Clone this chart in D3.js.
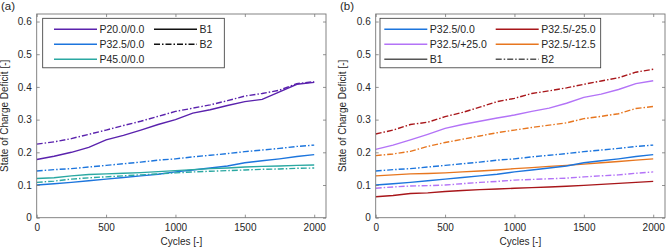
<!DOCTYPE html>
<html><head><meta charset="utf-8">
<script src="https://cdn.jsdelivr.net/npm/d3@7"></script>
<style>
body{margin:0;background:#fff;}
svg{display:block;font-family:"Liberation Sans",Arial,sans-serif;}
</style></head>
<body><svg id="c" width="667" height="248"></svg>
<script>
// ---- data ----
const cycles = [0,125,250,375,500,625,750,875,1000,1125,1250,1375,1500,1625,1750,1875,2000];

// panel (a)
const a_P20_B1  = [0.178,0.188,0.200,0.215,0.238,0.252,0.268,0.285,0.300,0.320,0.330,0.343,0.355,0.362,0.385,0.408,0.414];
const a_P20_B2  = [0.225,0.232,0.242,0.255,0.268,0.282,0.295,0.310,0.325,0.335,0.345,0.358,0.372,0.380,0.390,0.410,0.416];
const a_P325_B1 = [0.100,0.104,0.108,0.113,0.118,0.123,0.128,0.133,0.140,0.146,0.152,0.158,0.168,0.174,0.180,0.187,0.193];
const a_P325_B2 = [0.143,0.147,0.150,0.155,0.160,0.165,0.170,0.176,0.180,0.186,0.191,0.196,0.202,0.207,0.212,0.218,0.222];
const a_P45_B1  = [0.120,0.122,0.128,0.132,0.134,0.136,0.138,0.141,0.144,0.147,0.150,0.152,0.155,0.157,0.158,0.160,0.161];
const a_P45_B2  = [0.108,0.112,0.118,0.122,0.125,0.128,0.131,0.134,0.137,0.140,0.142,0.144,0.146,0.148,0.149,0.151,0.152];

// panel (b)
const b_P325_B1  = a_P325_B1;
const b_P325_B2  = a_P325_B2;
const b_M25_B1   = [0.064,0.068,0.074,0.076,0.080,0.083,0.086,0.088,0.090,0.092,0.094,0.096,0.099,0.102,0.105,0.108,0.111];
const b_M25_B2   = [0.256,0.268,0.285,0.292,0.309,0.322,0.338,0.355,0.365,0.380,0.388,0.397,0.408,0.418,0.428,0.445,0.454];
const b_P25_B1   = [0.209,0.222,0.238,0.255,0.273,0.285,0.295,0.305,0.314,0.325,0.335,0.350,0.368,0.378,0.392,0.410,0.419];
const b_P25_B2   = [0.090,0.094,0.097,0.098,0.100,0.104,0.108,0.111,0.115,0.117,0.119,0.121,0.125,0.128,0.131,0.136,0.140];
const b_M125_B1  = [0.128,0.131,0.134,0.135,0.137,0.140,0.143,0.146,0.150,0.153,0.157,0.160,0.164,0.168,0.172,0.176,0.180];
const b_M125_B2  = [0.190,0.195,0.203,0.218,0.230,0.240,0.250,0.260,0.268,0.276,0.283,0.290,0.303,0.310,0.318,0.334,0.340];

const xTicks = [0,500,1000,1500,2000];
const yTicks = [0,0.1,0.2,0.3,0.4,0.5,0.6];
const xLabel = "Cycles [-]";
const yLabel = "State of Charge Deficit [-]";

const colors = {
  P20:"#5a22ad", P325:"#1c75dd", P45:"#2aa8a2",
  M25:"#a8161a", P25:"#b373f7", M125:"#e7761f"
};

const panelA = {
  title:"(a)",
  series:[
    {v:a_P20_B2, c:colors.P20, d:true},{v:a_P20_B1, c:colors.P20, d:false},
    {v:a_P325_B2,c:colors.P325,d:true},{v:a_P325_B1,c:colors.P325,d:false},
    {v:a_P45_B2, c:colors.P45, d:true},{v:a_P45_B1, c:colors.P45, d:false}
  ],
  legend:[
    {t:"P20.0/0.0",c:colors.P20,d:false,col:0,row:0},
    {t:"P32.5/0.0",c:colors.P325,d:false,col:0,row:1},
    {t:"P45.0/0.0",c:colors.P45,d:false,col:0,row:2},
    {t:"B1",c:"#111",d:false,col:1,row:0},
    {t:"B2",c:"#111",d:true,col:1,row:1}
  ]
};
const panelB = {
  title:"(b)",
  series:[
    {v:b_M25_B2, c:colors.M25, d:true},{v:b_P25_B1, c:colors.P25, d:false},
    {v:b_M125_B2,c:colors.M125,d:true},{v:b_P325_B2,c:colors.P325,d:true},
    {v:b_M125_B1,c:colors.M125,d:false},{v:b_P325_B1,c:colors.P325,d:false},
    {v:b_P25_B2, c:colors.P25, d:true},{v:b_M25_B1, c:colors.M25, d:false}
  ],
  legend:[
    {t:"P32.5/0.0",c:colors.P325,d:false,col:0,row:0},
    {t:"P32.5/+25.0",c:colors.P25,d:false,col:0,row:1},
    {t:"B1",c:"#555",d:false,col:0,row:2},
    {t:"P32.5/-25.0",c:colors.M25,d:false,col:1,row:0},
    {t:"P32.5/-12.5",c:colors.M125,d:false,col:1,row:1},
    {t:"B2",c:"#555",d:true,col:1,row:2}
  ]
};

const svg = d3.select("#c");
svg.append("rect").attr("width",667).attr("height",248).attr("fill","#fff");
const DASH = "6,2,1.5,2";
const txt = "#262626";

function drawPanel(p, ox, layout){
  const L = ox + 36.7, R = ox + 326, T = 14, B = 217.7;
  const x = d3.scaleLinear().domain([0,2085]).range([L,R]);
  const y = d3.scaleLinear().domain([0,0.623]).range([B,T]);
  const g = svg.append("g");

  // data lines
  const clipId = "clip"+p.title.replace(/\W/g,"");
  svg.append("clipPath").attr("id",clipId).append("rect")
    .attr("x",L).attr("y",T).attr("width",R-L).attr("height",B-T);
  const line = d3.line().x((d,i)=>x(cycles[i])).y(d=>y(d));
  const lg = g.append("g").attr("clip-path",`url(#${clipId})`);
  p.series.forEach(s=>{
    lg.append("path").attr("d",line(s.v)).attr("fill","none")
      .attr("stroke",s.c).attr("stroke-width",1.4)
      .attr("stroke-dasharray",s.d?DASH:null);
  });

  // axes (ticks inside, mirrored)
  const axB = d3.axisBottom(x).tickValues(xTicks).tickSize(-3).tickPadding(6).tickFormat(d3.format("d"));
  const axT = d3.axisTop(x).tickValues(xTicks).tickSize(-3).tickFormat("");
  const axL = d3.axisLeft(y).tickValues(yTicks).tickSize(-3).tickPadding(5).tickFormat(d=>d===0?"0":d3.format(".1f")(d));
  const axR = d3.axisRight(y).tickValues(yTicks).tickSize(-3).tickFormat("");
  const style = sel=>{
    sel.select(".domain").remove();
    sel.selectAll(".tick line").attr("stroke","#777").attr("stroke-width",0.8);
    sel.selectAll(".tick text").attr("fill",txt).style("font-size","10px").style("font-family","Liberation Sans, Arial, sans-serif");
  };
  g.append("g").attr("transform",`translate(0,${B})`).call(axB).call(style);
  g.append("g").attr("transform",`translate(0,${T})`).call(axT).call(style);
  g.append("g").attr("transform",`translate(${L},0)`).call(axL).call(style);
  g.append("g").attr("transform",`translate(${R},0)`).call(axR).call(style);
  g.append("rect").attr("x",L).attr("y",T).attr("width",R-L).attr("height",B-T)
    .attr("fill","none").attr("stroke","#777").attr("stroke-width",0.9);

  // labels
  g.append("text").attr("x",(L+R)/2).attr("y",245).attr("text-anchor","middle")
    .attr("fill",txt).style("font-size","10px").text(xLabel);
  g.append("text").attr("transform",`translate(${ox+layout.yl},${(T+B)/2}) rotate(-90)`)
    .attr("text-anchor","middle").attr("fill",txt).style("font-size","10px").text(yLabel);
  g.append("text").attr("x",ox+1).attr("y",10).attr("fill",txt)
    .style("font-size","11.5px").text(p.title);

  // legend
  const lgd = g.append("g");
  lgd.append("rect").attr("x",ox+layout.bx).attr("y",18.3).attr("width",layout.bw).attr("height",49.5)
    .attr("fill","#fff").attr("stroke","#333").attr("stroke-width",0.8);
  const rows=[29.3,44.3,59.3];
  p.legend.forEach(e=>{
    const x0 = ox + layout.cols[e.col];
    lgd.append("line").attr("x1",x0).attr("x2",x0+43).attr("y1",rows[e.row]).attr("y2",rows[e.row])
      .attr("stroke",e.c).attr("stroke-width",1.5).attr("stroke-dasharray",e.d?DASH:null);
    lgd.append("text").attr("x",x0+45.5).attr("y",rows[e.row]+3.7).attr("fill",txt)
      .style("font-size","10.5px").text(e.t);
  });
}

drawPanel(panelA, 0, {bx:42.7, bw:181.6, cols:[54,154], yl:8.3});
drawPanel(panelB, 339, {bx:41, bw:220.7, cols:[45.3,156.7], yl:6.5});
</script></body></html>
